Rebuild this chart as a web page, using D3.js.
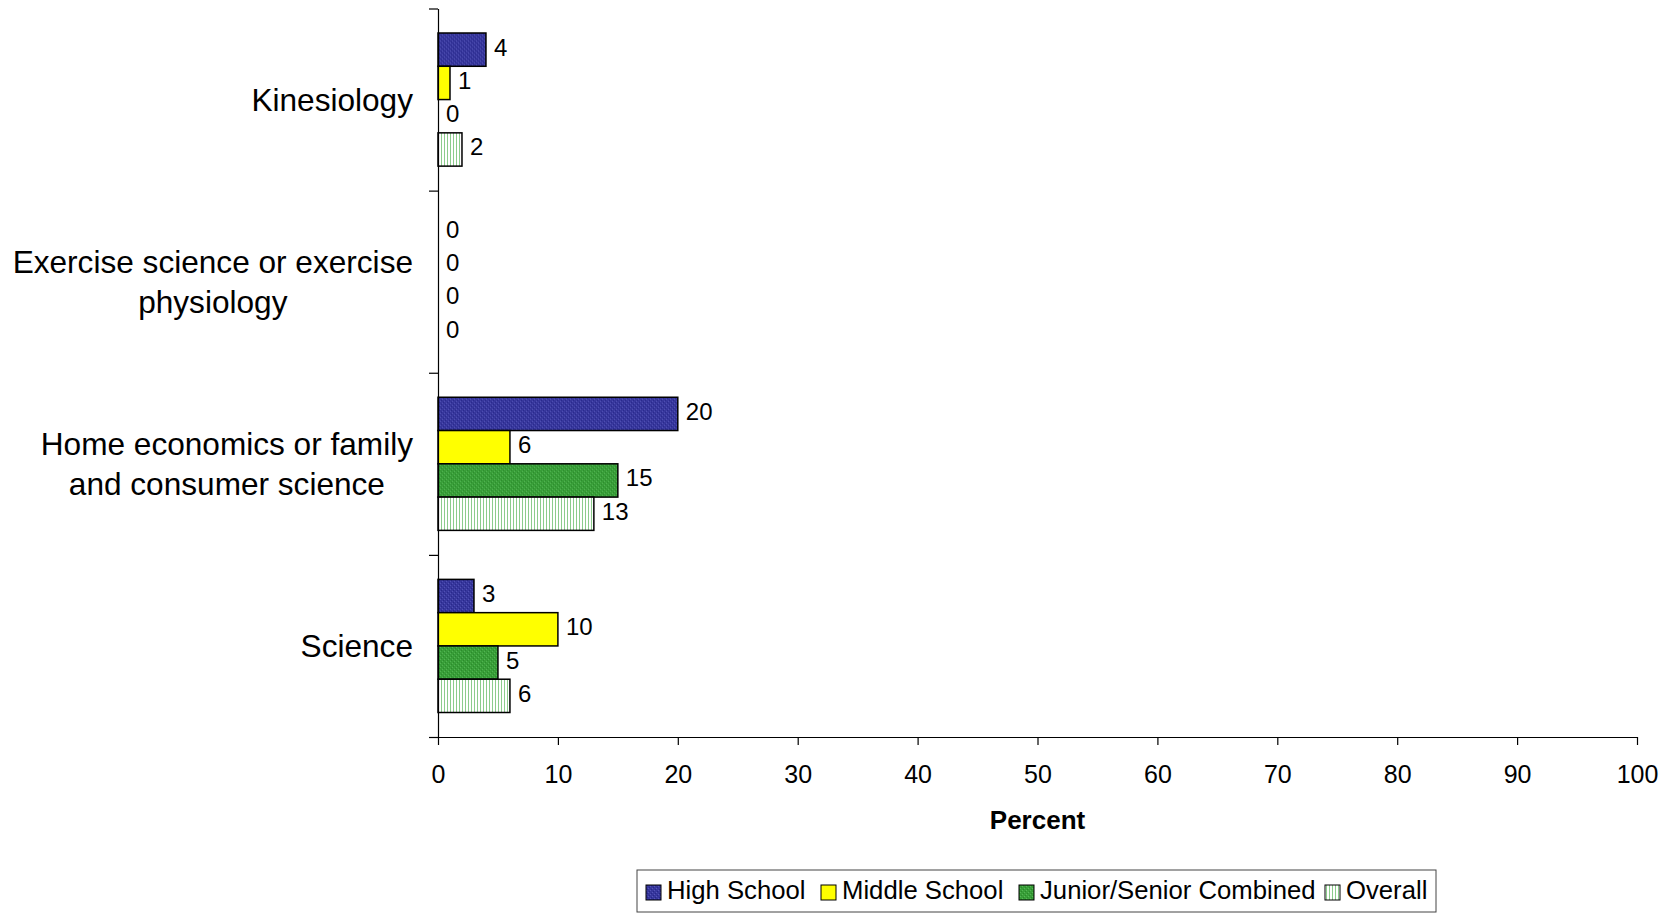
<!DOCTYPE html>
<html>
<head>
<meta charset="utf-8">
<script src="https://cdn.jsdelivr.net/npm/d3@7"></script>
<style>
  body { margin: 0; background: #fff; }
  text { font-family: "Liberation Sans", Arial, sans-serif; fill: #000; }
</style>
</head>
<body>
<div id="chart"></div>
<script>
// categories, top to bottom
var categories = [
    ["Kinesiology"],
    ["Exercise science or exercise", "physiology"],
    ["Home economics or family", "and consumer science"],
    ["Science"]
];
var seriesNames = ["High School", "Middle School", "Junior/Senior Combined", "Overall"];
var highSchool = [4, 0, 20, 3];
var middleSchool = [1, 0, 6, 10];
var juniorSenior = [0, 0, 15, 5];
var overall = [2, 0, 13, 6];
var xTicks = [0, 10, 20, 30, 40, 50, 60, 70, 80, 90, 100];

var seriesValues = [highSchool, middleSchool, juniorSenior, overall];
var fills = ["url(#pBlue)", "#ffff00", "url(#pGreen)", "url(#pOverall)"];

function drawChart() {
    var width = 1673, height = 914;

    var svg = d3.select("#chart")
        .append("svg")
        .attr("width", width)
        .attr("height", height);

    //patterns for the hatched fills
    var defs = svg.append("defs");

    var pb = defs.append("pattern").attr("id", "pBlue")
        .attr("patternUnits", "userSpaceOnUse").attr("width", 4).attr("height", 4);
    pb.append("rect").attr("width", 4).attr("height", 4).attr("fill", "#37379c");
    pb.append("rect").attr("x", 0).attr("y", 0).attr("width", 1).attr("height", 1).attr("fill", "#5454b8");
    pb.append("rect").attr("x", 2).attr("y", 2).attr("width", 1).attr("height", 1).attr("fill", "#5454b8");
    pb.append("rect").attr("x", 1).attr("y", 3).attr("width", 1).attr("height", 1).attr("fill", "#26268a");
    pb.append("rect").attr("x", 3).attr("y", 1).attr("width", 1).attr("height", 1).attr("fill", "#26268a");

    var pg = defs.append("pattern").attr("id", "pGreen")
        .attr("patternUnits", "userSpaceOnUse").attr("width", 4).attr("height", 4);
    pg.append("rect").attr("width", 4).attr("height", 4).attr("fill", "#389e38");
    pg.append("rect").attr("x", 0).attr("y", 0).attr("width", 1).attr("height", 1).attr("fill", "#55b655");
    pg.append("rect").attr("x", 2).attr("y", 2).attr("width", 1).attr("height", 1).attr("fill", "#55b655");
    pg.append("rect").attr("x", 1).attr("y", 3).attr("width", 1).attr("height", 1).attr("fill", "#2a882a");
    pg.append("rect").attr("x", 3).attr("y", 1).attr("width", 1).attr("height", 1).attr("fill", "#2a882a");

    var po = defs.append("pattern").attr("id", "pOverall")
        .attr("patternUnits", "userSpaceOnUse").attr("width", 3).attr("height", 4);
    po.append("rect").attr("width", 3).attr("height", 4).attr("fill", "#ffffff");
    po.append("rect").attr("x", 0).attr("width", 1).attr("height", 4).attr("fill", "#8ccc8c");

    //scales
    var x = d3.scaleLinear().domain([0, 100]).range([438, 1637]);
    var y = d3.scaleBand().domain(d3.range(categories.length)).range([8.5, 737]);
    var ySub = d3.scaleBand().domain(d3.range(seriesNames.length))
        .range([24.5, y.bandwidth() - 24.5]);
    var yEdge = d3.scaleLinear().domain([0, categories.length]).range([8.5, 737]);

    //bars
    var groups = svg.selectAll(".cat")
        .data(categories)
        .enter()
        .append("g")
        .attr("class", "cat")
        .attr("transform", function (d, i) { return "translate(0," + y(i) + ")"; });

    groups.each(function (cat, ci) {
        var g = d3.select(this);
        seriesValues.forEach(function (vals, si) {
            var v = vals[ci];
            if (v > 0) {
                g.append("rect")
                    .attr("x", x(0))
                    .attr("y", ySub(si))
                    .attr("width", x(v) - x(0))
                    .attr("height", ySub.bandwidth())
                    .attr("fill", fills[si])
                    .attr("stroke", "#000")
                    .attr("stroke-width", 1.5);
            }
            g.append("text")
                .attr("x", x(v) + 8)
                .attr("y", ySub(si) + ySub.bandwidth() / 2 + 6)
                .attr("font-size", 24)
                .text(v);
        });

        //category label, lines centred on the widest one, block right aligned
        var lab = g.append("g");
        var lines = cat.map(function (t, li) {
            return lab.append("text")
                .attr("font-size", 31.6)
                .attr("y", y.bandwidth() / 2 + 11 + (li - (cat.length - 1) / 2) * 40)
                .text(t);
        });
        var w = d3.max(lines, function (t) { return t.node().getComputedTextLength(); });
        var cx = 413 - w / 2;
        lines.forEach(function (t) { t.attr("x", cx).attr("text-anchor", "middle"); });
    });

    //x axis
    var xAxis = svg.append("g")
        .attr("transform", "translate(0,737)")
        .call(d3.axisBottom(x).tickValues(xTicks).tickSize(8).tickSizeOuter(0).tickPadding(20));
    xAxis.select(".domain").attr("stroke-width", 1.2);
    xAxis.selectAll(".tick line").attr("stroke-width", 1.2);
    xAxis.selectAll("text").attr("font-size", 25)
        .style("font-family", "'Liberation Sans', Arial, sans-serif");

    //y axis, ticks on the category edges
    var yAxis = svg.append("g")
        .attr("transform", "translate(438,0)")
        .call(d3.axisLeft(yEdge).tickValues(d3.range(categories.length + 1))
            .tickFormat("").tickSize(9).tickSizeOuter(0));
    yAxis.select(".domain").attr("stroke-width", 1.2);
    yAxis.selectAll(".tick line").attr("stroke-width", 1.2);

    svg.append("text")
        .attr("x", (x(0) + x(100)) / 2)
        .attr("y", 829)
        .attr("text-anchor", "middle")
        .attr("font-size", 26)
        .attr("font-weight", "bold")
        .text("Percent");

    //legend
    var legend = svg.append("g");
    legend.append("rect")
        .attr("x", 637).attr("y", 870)
        .attr("width", 799).attr("height", 42)
        .attr("fill", "#fff")
        .attr("stroke", "#444")
        .attr("stroke-width", 1);

    var swatchX = [646, 821, 1019, 1325];
    seriesNames.forEach(function (name, i) {
        legend.append("rect")
            .attr("x", swatchX[i]).attr("y", 885)
            .attr("width", 15).attr("height", 15)
            .attr("fill", fills[i])
            .attr("stroke", "#000")
            .attr("stroke-width", 1);
        legend.append("text")
            .attr("x", swatchX[i] + 21)
            .attr("y", 899)
            .attr("font-size", 25.7)
            .text(name);
    });
}

window.onload = drawChart();
</script>
</body>
</html>
